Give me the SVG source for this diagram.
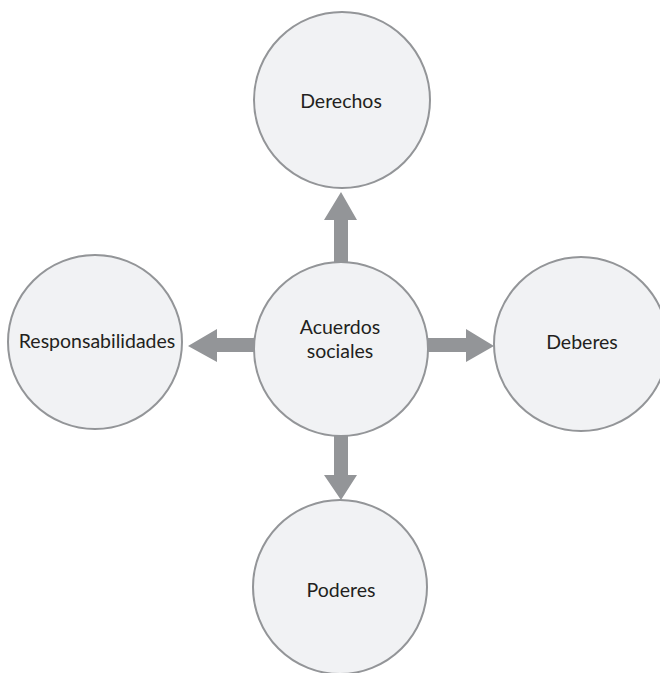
<svg xmlns="http://www.w3.org/2000/svg" width="660" height="673" viewBox="0 0 660 673">
  <style>
    .node circle { fill: #f1f2f4; stroke: #939598; stroke-width: 2; }
    .node text { font-family: Lato, "Open Sans", "DejaVu Sans", sans-serif; font-size: 19.5px; font-weight: 400; fill: #231f20; text-anchor: middle; }
    .arrow { fill: #939598; stroke: none; }
  </style>
  <rect width="660" height="673" fill="#ffffff"/>

  <!-- block arrows from the centre outwards -->
  <g id="connectors">
    <polygon class="arrow" points="334,262 334,220 324,220 341,192 357,220 348,220 348,262"/>
    <polygon class="arrow" points="254,338 217,338 217,329 188,346 217,362 217,352 254,352"/>
    <polygon class="arrow" points="428,338 466,338 466,329 494,346 466,362 466,352 428,352"/>
    <polygon class="arrow" points="334,436 334,475 324,475 341,500 357,475 348,475 348,436"/>
  </g>

  <g id="node-derechos" class="node">
    <circle cx="342" cy="100" r="88"/>
    <text x="341" y="108">Derechos</text>
  </g>
  <g id="node-acuerdos" class="node">
    <circle cx="341" cy="349" r="87"/>
    <text x="340" y="334">Acuerdos</text>
    <text x="340" y="358">sociales</text>
  </g>
  <g id="node-responsabilidades" class="node">
    <circle cx="95" cy="342" r="87"/>
    <text x="97" y="348">Responsabilidades</text>
  </g>
  <g id="node-deberes" class="node">
    <circle cx="581" cy="344" r="87"/>
    <text x="582" y="349">Deberes</text>
  </g>
  <g id="node-poderes" class="node">
    <circle cx="340" cy="587" r="87"/>
    <text x="341" y="597">Poderes</text>
  </g>
</svg>
